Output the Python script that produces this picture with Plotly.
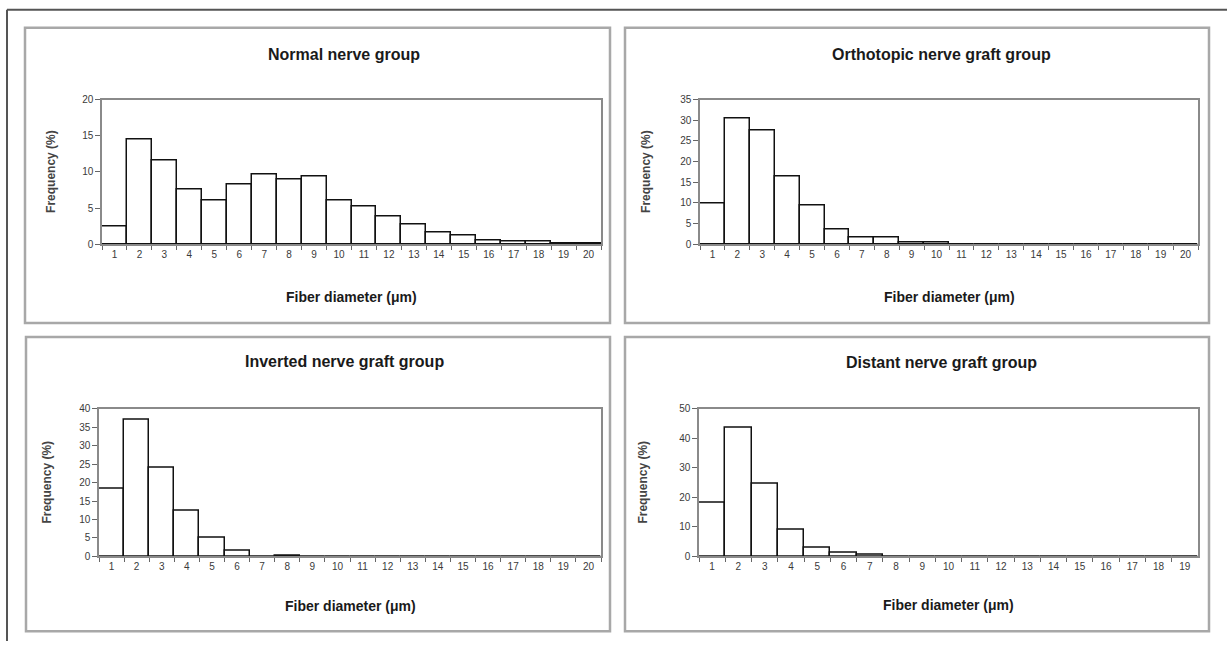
import plotly.graph_objects as go
from plotly.subplots import make_subplots

# ---------------- data ----------------
diam20 = [str(i) for i in range(1, 21)]
diam19 = [str(i) for i in range(1, 20)]

normal = [2.4, 14.5, 11.6, 7.6, 6.0, 8.2, 9.6, 8.9, 9.3, 6.0,
          5.2, 3.8, 2.7, 1.6, 1.2, 0.5, 0.3, 0.4, 0.15, 0.15]
orthotopic = [9.9, 30.5, 27.5, 16.4, 9.3, 3.5, 1.6, 1.7, 0.4, 0.3,
              0, 0, 0, 0, 0, 0, 0, 0, 0, 0]
inverted = [18.2, 37.0, 24.1, 12.4, 5.1, 1.5, 0, 0.3, 0, 0,
            0, 0, 0, 0, 0, 0, 0, 0, 0, 0]
distant = [18.1, 43.5, 24.5, 9.1, 2.9, 1.1, 0.5, 0, 0, 0,
           0, 0, 0, 0, 0, 0, 0, 0, 0]

titles = ["Normal nerve group", "Orthotopic nerve graft group",
          "Inverted nerve graft group", "Distant nerve graft group"]
x_title = "Fiber diameter (\u03bcm)"
y_title = "Frequency (%)"
y_ranges = [(0, 20, 5), (0, 35, 5), (0, 40, 5), (0, 50, 10)]

W, H = 1227, 647
def px(x): return x / W
def py(y):
    # small vertical correction so the photographed page lines up
    y2 = 9 + (y - 14) / 0.984
    return min(1.0, max(0.0, 1 - y2 / H))

# plot areas in pixels: (left, right, top, bottom)
areas = [(102, 601, 99, 244), (700, 1198, 99, 244),
         (99, 601, 409, 557), (699, 1198, 409, 557)]
# panel boxes
boxes = [(25, 27, 610, 323), (625, 27, 1209, 323),
         (26, 337, 610, 632), (625, 337, 1209, 632)]
title_pos = [(344, 54), (941, 54), (344, 362), (941, 363)]
xt_y = [297, 297, 607, 606]
yt_x = [51, 646, 47, 643]

fig = make_subplots(rows=2, cols=2)
series = [(diam20, normal), (diam20, orthotopic), (diam20, inverted), (diam19, distant)]
tick_font = dict(family="Liberation Sans, Arial, sans-serif", size=10, color="#3a3a3a")
bold_font = "Liberation Sans, Arial, sans-serif"

for i, (cats, vals) in enumerate(series):
    r, c = i // 2 + 1, i % 2 + 1
    fig.add_trace(go.Bar(x=cats, y=vals, marker=dict(color="white",
                         line=dict(color="#111", width=1.5)),
                         showlegend=False), row=r, col=c)
    l, rr, t, b = areas[i]
    lo, hi, dt = y_ranges[i]
    fig.update_xaxes(domain=[px(l), px(rr)], type="category", tickson="boundaries",
                     ticks="outside", ticklen=4, tickcolor="#666",
                     showline=True, linecolor="#8a8a8a", linewidth=1.5, mirror=True,
                     showgrid=False, tickfont=tick_font, fixedrange=True,
                     row=r, col=c)
    fig.update_yaxes(domain=[py(b), py(t)], range=[lo, hi], dtick=dt,
                     ticks="outside", ticklen=5, tickcolor="#666",
                     showline=True, linecolor="#8a8a8a", linewidth=1.5, mirror=True,
                     showgrid=False, zeroline=False, tickfont=tick_font,
                     row=r, col=c)
    tx, ty = title_pos[i]
    fig.add_annotation(x=px(tx), y=py(ty), xref="paper", yref="paper",
                       text="<b>%s</b>" % titles[i], showarrow=False,
                       font=dict(family=bold_font, size=16, color="#1a1a1a"),
                       xanchor="center", yanchor="middle")
    fig.add_annotation(x=px((l + rr) / 2), y=py(xt_y[i]), xref="paper", yref="paper",
                       text="<b>%s</b>" % x_title, showarrow=False,
                       font=dict(family=bold_font, size=14, color="#1a1a1a"),
                       xanchor="center", yanchor="middle")
    fig.add_annotation(x=px(yt_x[i]), y=py((t + b) / 2), xref="paper", yref="paper",
                       text="<b>%s</b>" % y_title, showarrow=False, textangle=-90,
                       font=dict(family=bold_font, size=12, color="#444"),
                       xanchor="center", yanchor="middle")

shapes = []
for (x0, y0, x1, y1) in boxes:
    shapes.append(dict(type="rect", xref="paper", yref="paper",
                       x0=px(x0), x1=px(x1), y0=py(y1), y1=py(y0),
                       line=dict(color="#a8a8a8", width=2.5)))
# outer frame (left and top lines)
shapes.append(dict(type="line", xref="paper", yref="paper", x0=px(7), x1=px(7),
                   y0=0, y1=py(9), line=dict(color="#555", width=2)))
shapes.append(dict(type="line", xref="paper", yref="paper", x0=px(7), x1=1,
                   y0=py(9), y1=py(9), line=dict(color="#555", width=2)))

fig.update_layout(width=W, height=H, margin=dict(l=0, r=0, t=0, b=0),
                  paper_bgcolor="white", plot_bgcolor="white",
                  bargap=0, shapes=shapes, showlegend=False)

fig.write_html("out.html",
               config={"displayModeBar": False},
               post_script="document.body.style.margin='0';"
                           "document.body.style.padding='0';"
                           "document.documentElement.style.overflow='hidden';"
                           "var d=document.getElementById('{plot_id}');"
                           "d.style.position='fixed';d.style.top='0px';d.style.left='0px';")
